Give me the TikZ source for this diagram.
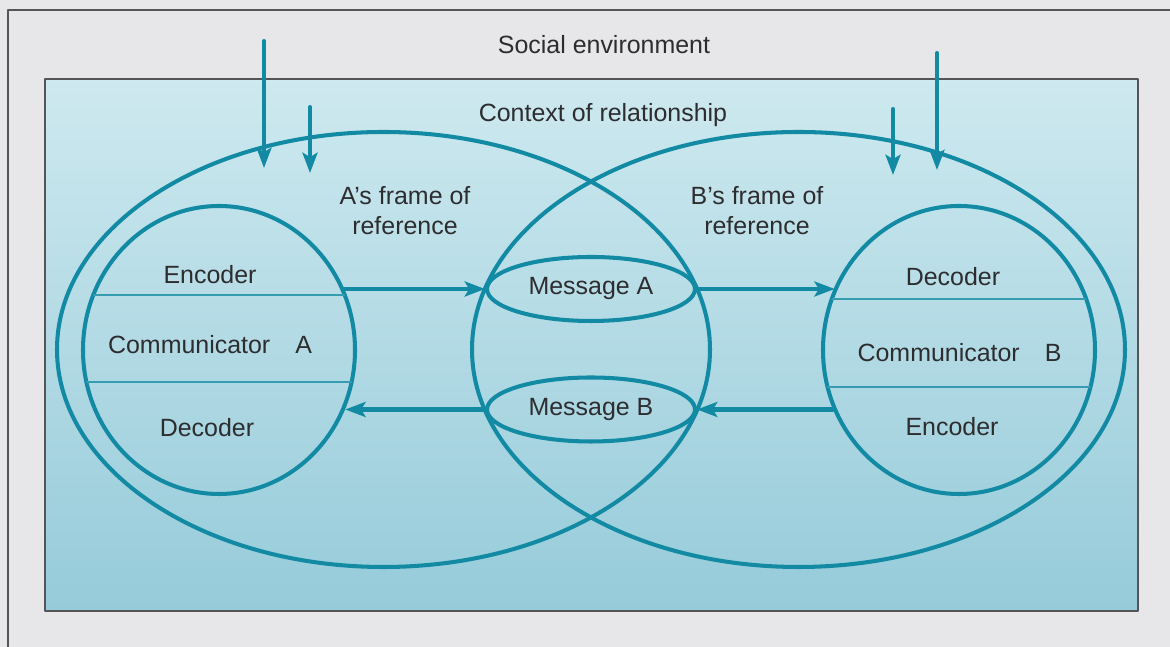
\documentclass[tikz,border=0pt]{standalone}
\usepackage{fontspec}
\setmainfont{Liberation Sans}
\usetikzlibrary{shapes.geometric,arrows.meta}
\definecolor{tealln}{RGB}{18,138,163}
\definecolor{txtgray}{RGB}{45,45,48}
\definecolor{bggray}{RGB}{231,231,233}
\definecolor{framegray}{RGB}{85,85,88}
\definecolor{rectop}{RGB}{206,233,239}
\definecolor{recbot}{RGB}{150,203,218}
\begin{document}
\begin{tikzpicture}[>={Stealth[length=11.5pt,width=8.5pt,inset=2.5pt]}, font=\fontsize{14.2}{17}\selectfont, line join=round, line cap=round,
  ln/.style={color=tealln, line width=2.3pt},
  divln/.style={color=tealln!85, line width=1.4pt},
  ring/.style={ellipse, draw=tealln, line width=2.3pt, inner sep=0pt, text=txtgray},
  txt/.style={text=txtgray, align=center}]
\def\W{23.4} \def\H{12.94}
\useasboundingbox (0,0) rectangle (\W,\H);
%	\draw[color=gray!50,dashed] (0,0) grid (\W,\H);
\fill[bggray] (0,0) rectangle (\W,\H);
\draw[framegray, line width=1pt] (0.16,0) -- (0.16,12.74) -- (\W,12.74);
% khung
\shade[top color=rectop, bottom color=recbot] (0.9,0.72) rectangle (22.76,11.36);
\draw[framegray, line width=1.3pt] (0.9,0.72) rectangle (22.76,11.36);
\node[txt] (soc) at (12.08,12.04) {Social environment};
\node[txt] (ctx) at (12.06,10.64) {Context of relationship};
% frames of reference
\node[ring, minimum width=13.06cm, minimum height=8.7cm] (fA) at (7.67,5.95) {};
\node[ring, minimum width=13.06cm, minimum height=8.7cm] (fB) at (15.97,5.95) {};
\node[txt] (lblA) at (8.1,8.72) {A’s frame of\\reference};
\node[txt] (lblB) at (15.14,8.72) {B’s frame of\\reference};
% communicators
\node[ring, minimum width=5.44cm, minimum height=5.76cm] (cA) at (4.38,5.94) {};
\node[ring, minimum width=5.44cm, minimum height=5.76cm] (cB) at (19.18,5.94) {};
\foreach \c/\u/\l in {cA/7.04/5.3, cB/6.96/5.2}{
  \begin{scope}
  \clip (\c.center) ellipse (2.72 and 2.88);
  \draw[divln] (\c.west |- 0,\u) -- (\c.east |- 0,\u) (\c.west |- 0,\l) -- (\c.east |- 0,\l);
  \end{scope}}
\node[txt] (encA) at (4.2,7.44) {Encoder};
\node[txt] (comA) at (4.2,6.04) {Communicator\quad A};
\node[txt] (decA) at (4.14,4.38) {Decoder};
\node[txt] (decB) at (19.06,7.4) {Decoder};
\node[txt] (comB) at (19.19,5.88) {Communicator\quad B};
\node[txt] (encB) at (19.04,4.4) {Encoder};
% messages
\node[ring, minimum width=4.16cm, minimum height=1.28cm] (mA) at (11.82,7.16) {Message A};
\node[ring, minimum width=4.16cm, minimum height=1.28cm] (mB) at (11.82,4.75) {Message B};
\draw[ln,->] (cA.26.4 |- mA.west) -- (mA.west);
\draw[ln,->] (mA.east) -- (mA.east -| cB.153.6);
\draw[ln,->] (cB.205.6 |- mB.east) -- (mB.east);
\draw[ln,->] (mB.west) -- (mB.west -| cA.-25.6);
% influences
\coordinate (sA) at (5.28,12.12); \coordinate (sAe) at (5.28,9.58);
\coordinate (rA) at (6.2,10.8);   \coordinate (rAe) at (6.2,9.48);
\coordinate (sB) at (18.74,11.88); \coordinate (sBe) at (18.74,9.54);
\coordinate (rB) at (17.86,10.76); \coordinate (rBe) at (17.86,9.44);
\draw[ln,->] (sA)--(sAe);
\draw[ln,->] (rA)--(rAe);
\draw[ln,->] (sB)--(sBe);
\draw[ln,->] (rB)--(rBe);
\end{tikzpicture}
\end{document}
